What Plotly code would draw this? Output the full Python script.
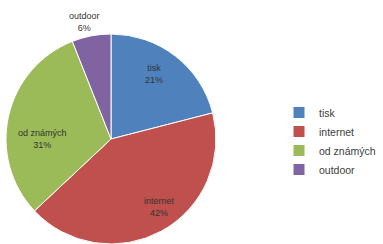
import plotly.graph_objects as go

labels = ["tisk", "internet", "od známých", "outdoor"]
values = [21, 42, 31, 6]
colors = ["#4F81BD", "#C0504D", "#9BBB59", "#8064A2"]

W, H = 383, 244
fig = go.Figure(go.Pie(
    labels=labels, values=values, sort=False, direction="clockwise", rotation=0,
    marker=dict(colors=colors, line=dict(color="white", width=1)),
    textinfo="none",
    domain=dict(x=[6/W, 216/W], y=[0, 1-34/H]),
    hoverinfo="skip",
))

# label centre positions (pixels) for each slice's text
label_xy = [(154, 74), (159, 207), (42, 139), (84, 22)]
for lab, v, (px, py) in zip(labels, values, label_xy):
    fig.add_annotation(x=px/W, y=1-py/H, xref="paper", yref="paper",
                       xanchor="center", yanchor="middle",
                       text=f"{lab}<br>{v}%", showarrow=False,
                       font=dict(family="Liberation Sans, Arial", size=9, color="#333333"),
                       align="center")

fig.update_layout(
    width=W, height=H, margin=dict(l=0, r=0, t=0, b=0),
    paper_bgcolor="white", plot_bgcolor="white",
    showlegend=True,
    legend=dict(x=279/W, y=1-141/H, xanchor="left", yanchor="middle",
                font=dict(family="Liberation Sans, Arial", size=10.5, color="#404040"),
                itemwidth=30, tracegroupgap=0),
)
fig.write_html("out.html", config={"displayModeBar": False},
               post_script="document.body.style.margin='0';")
